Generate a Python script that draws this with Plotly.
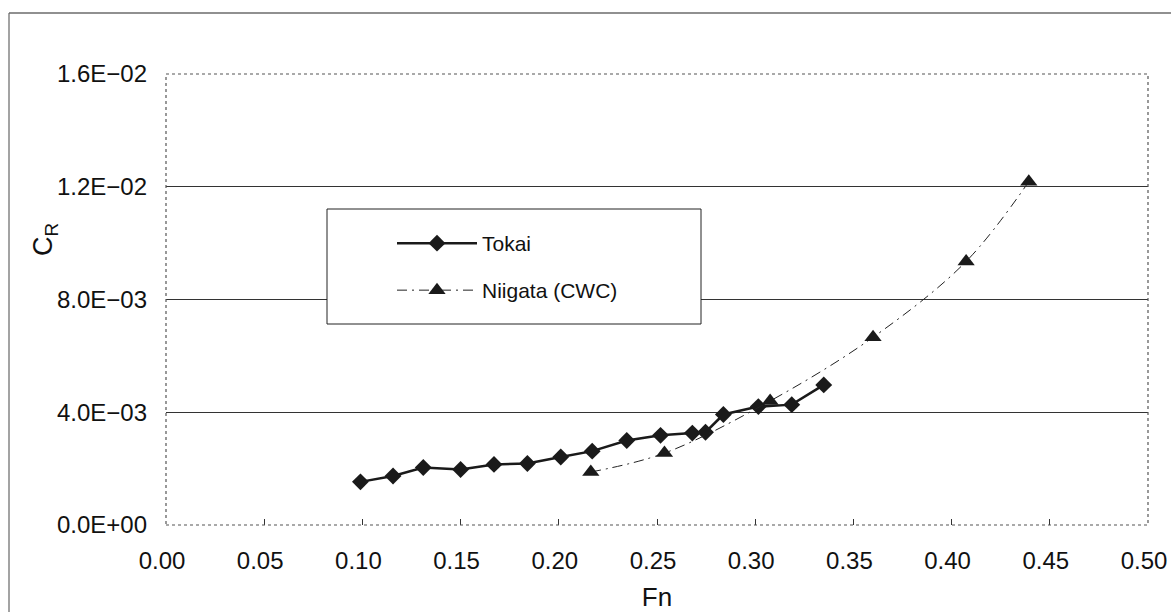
import plotly.graph_objects as go

# Data
tokai_fn = [0.099, 0.1156, 0.131, 0.150, 0.167, 0.184, 0.201, 0.217, 0.2346,
            0.2518, 0.268, 0.2747, 0.2838, 0.3016, 0.3186, 0.3349]
tokai_cr = [1.53e-3, 1.74e-3, 2.04e-3, 1.97e-3, 2.15e-3, 2.18e-3, 2.41e-3, 2.62e-3,
            3.00e-3, 3.18e-3, 3.26e-3, 3.29e-3, 3.92e-3, 4.20e-3, 4.27e-3, 4.97e-3]

niigata_fn = [0.2163, 0.2538, 0.3076, 0.3600, 0.4074, 0.4393]
niigata_cr = [1.88e-3, 2.55e-3, 4.40e-3, 6.66e-3, 9.35e-3, 12.18e-3]

x_ticks = [0.00, 0.05, 0.10, 0.15, 0.20, 0.25, 0.30, 0.35, 0.40, 0.45, 0.50]
x_ticktext = ["0.00", "0.05", "0.10", "0.15", "0.20", "0.25", "0.30", "0.35", "0.40", "0.45", "0.50"]
y_ticks = [0.0, 0.004, 0.008, 0.012, 0.016]
y_ticktext = ["0.0E+00", "4.0E\u221203", "8.0E\u221203", "1.2E\u221202", "1.6E\u221202"]

FONT = "Liberation Sans, Arial, sans-serif"

fig = go.Figure()
fig.add_trace(go.Scatter(
    x=tokai_fn, y=tokai_cr, name="Tokai", mode="lines+markers",
    line=dict(color="#1a1a1a", width=2.5),
    marker=dict(symbol="diamond", size=13, color="#1a1a1a"),
    legend="legend", showlegend=True,
))
fig.add_trace(go.Scatter(
    x=niigata_fn, y=niigata_cr, name="Niigata (CWC)", mode="lines+markers",
    line=dict(color="#222", width=1, dash="10px,5px,2px,5px", shape="spline", smoothing=1),
    marker=dict(symbol="triangle-up", size=15, color="#1a1a1a"),
    legend="legend2", showlegend=True,
))

# plot area geometry (pixels): left 166, right 1148, top 74, bottom 525
L, R, T, B = 166, 1148, 74, 525
W, H = 1171, 612
def px(xp):
    return (xp - L) / (R - L)
def py(yp):
    return (B - yp) / (B - T)

shapes = [
    # dotted plot-area border
    dict(type="rect", xref="paper", yref="paper", x0=0, x1=1, y0=0, y1=1,
         line=dict(color="#555", width=1.2, dash="dot"), layer="above"),
    # legend box
    dict(type="rect", xref="paper", yref="paper", x0=px(327), x1=px(701), y0=py(324), y1=py(209),
         line=dict(color="#222", width=1), fillcolor="white", layer="above"),
    # outer frame: top and left lines
    dict(type="line", xref="paper", yref="paper", x0=px(9), x1=px(1171), y0=py(13), y1=py(13),
         line=dict(color="#222", width=1.2)),
    dict(type="line", xref="paper", yref="paper", x0=px(9), x1=px(9), y0=py(13), y1=py(612),
         line=dict(color="#666", width=1.2)),
]

annotations = [
    # y-axis title (placed above the vertical centre, as in the reference)
    dict(text="C<sub>R</sub>", xref="paper", yref="paper", x=px(45), y=py(240),
         xanchor="center", yanchor="middle", textangle=-90, showarrow=False,
         font=dict(size=27, family=FONT, color="#111")),
]

fig.update_layout(
    width=W, height=H,
    margin=dict(l=L, r=W - R, t=T, b=H - B, autoexpand=False),
    paper_bgcolor="white", plot_bgcolor="white",
    font=dict(family=FONT, color="#111", size=24),
    shapes=shapes,
    annotations=annotations,
    showlegend=True,
    xaxis=dict(
        range=[0, 0.5], tickvals=x_ticks, ticktext=x_ticktext,
        ticks="inside", ticklen=6, tickcolor="#333", tickwidth=1,
        showgrid=False, zeroline=False, showline=False, automargin=False,
        tickfont=dict(size=24), ticklabelstandoff=19, ticklabelshift=-4,
        title=dict(text="Fn", font=dict(size=26), standoff=14),
    ),
    yaxis=dict(
        range=[0, 0.016], tickvals=y_ticks, ticktext=y_ticktext,
        ticks="", showgrid=True, gridcolor="#333", gridwidth=1,
        zeroline=False, showline=False, automargin=False,
        tickfont=dict(size=24), ticklabelstandoff=18,
    ),
    legend=dict(x=px(392), y=py(223), xanchor="left", yanchor="top",
                bgcolor="rgba(0,0,0,0)", borderwidth=0, itemwidth=80,
                font=dict(size=21, family=FONT)),
    legend2=dict(x=px(392), y=py(270), xanchor="left", yanchor="top",
                 bgcolor="rgba(0,0,0,0)", borderwidth=0, itemwidth=80,
                 font=dict(size=21, family=FONT)),
)

fig.write_html("out.html")
